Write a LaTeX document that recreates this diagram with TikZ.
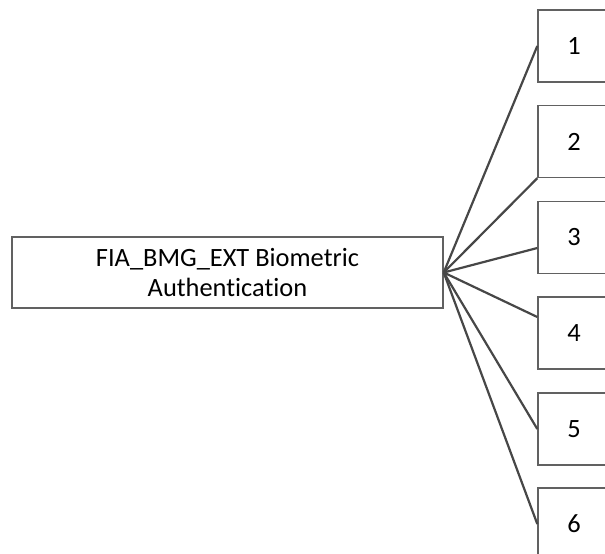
\documentclass[tikz,border=0pt]{standalone}
\usepackage{fontspec}
\setmainfont[Ligatures={NoCommon}]{Carlito}
\begin{document}
\begin{tikzpicture}[x=1pt,y=-1pt,
  box/.style={draw=black!62,line width=1.4pt,fill=white,inner sep=0pt,
    font=\fontsize{26.4}{30}\selectfont,align=center},
  leaf/.style={box,minimum width=72pt,minimum height=72pt},
  link/.style={draw=black!72,line width=2.2pt}]
\useasboundingbox (0,0) rectangle (605,554);
\clip (0,0) rectangle (605,554);
\node[box,minimum width=431pt,minimum height=71pt] (root) at (227.5,272.5)
  {FIA\_BMG\_EXT Biometric\\Authentication};
\node[leaf] (b1) at (574,46) {1};
\node[leaf] (b2) at (574,141.5) {2};
\node[leaf] (b3) at (574,237.5) {3};
\node[leaf] (b4) at (574,333) {4};
\node[leaf] (b5) at (574,429) {5};
\node[leaf] (b6) at (574,524) {6};
\draw[link] (root.east) -- (b1.west);
\draw[link] (root.east) -- (b2.south west);
\draw[link] (root.east) -- ([yshift=-10.5pt]b3.west);
\draw[link] (root.east) -- ([yshift=16pt]b4.west);
\draw[link] (root.east) -- (b5.west);
\draw[link] (root.east) -- (b6.west);
\end{tikzpicture}
\end{document}
